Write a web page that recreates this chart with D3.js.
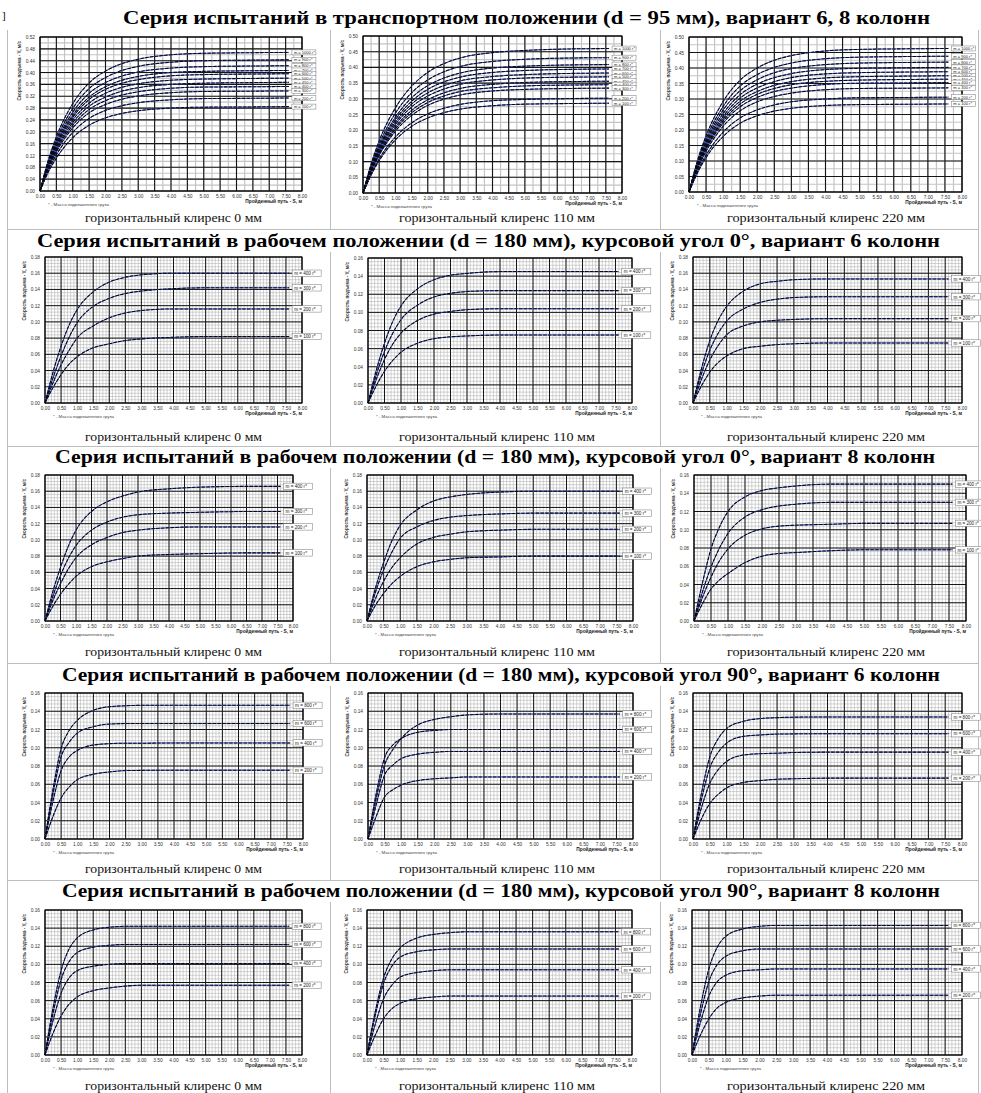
<!DOCTYPE html>
<html><head><meta charset="utf-8">
<script src="https://cdn.jsdelivr.net/npm/d3@7"></script>
<style>body{margin:0;background:#fff}svg{display:block}</style>
</head><body>
<svg id="chart" width="981" height="1093"></svg>
<script>
// ---------------- DATA ----------------
const X_TRANSPORT = [0, 0.25, 0.5, 1.0, 1.5, 2.0, 2.5, 3.0, 4.0, 5.0, 6.5, 7.6];
const X_WORK = [0, 0.25, 0.5, 0.75, 1.0, 1.5, 2.0, 2.5, 3.0, 4.0, 5.0, 6.5, 7.6];

const titles = [
  "Серия испытаний в транспортном положении (d = 95 мм), вариант 6, 8 колонн",
  "Серия испытаний в рабочем положении (d = 180 мм), курсовой угол 0°, вариант 6 колонн",
  "Серия испытаний в рабочем положении (d = 180 мм), курсовой угол 0°, вариант 8 колонн",
  "Серия испытаний в рабочем положении (d = 180 мм), курсовой угол 90°, вариант 6 колонн",
  "Серия испытаний в рабочем положении (d = 180 мм), курсовой угол 90°, вариант 8 колонн"
];
const captions = ["горизонтальный клиренс 0 мм", "горизонтальный клиренс 110 мм", "горизонтальный клиренс 220 мм"];
const xAxisTitle = "Пройденный путь - S, м";
const yAxisTitle = "Скорость подъема - V, м/с";
const noteText = "* - Масса подвешенного груза";

const massTransport = ["m = 1000 г*", "m = 900 г*", "m = 800 г*", "m = 700 г*", "m = 600 г*", "m = 500 г*",
                       "m = 450 г*", "m = 400 г*", "m = 300 г*", "m = 200 г*", "m = 100 г*"];
const mass0deg = ["m = 400 г*", "m = 300 г*", "m = 200 г*", "m = 100 г*"];
const mass90deg = ["m = 800 г*", "m = 600 г*", "m = 400 г*", "m = 200 г*"];

const yMaxByRow = [[0.52, 0.50, 0.50], [0.18, 0.16, 0.18], [0.18, 0.18, 0.16], [0.16, 0.16, 0.16], [0.16, 0.16, 0.16]];
const yStepByRow = [[0.04, 0.05, 0.05], [0.02, 0.02, 0.02], [0.02, 0.02, 0.02], [0.02, 0.02, 0.02], [0.02, 0.02, 0.02]];

// Row 1: transport position
const trans0 = [
  [0, 0.103, 0.183, 0.295, 0.365, 0.405, 0.430, 0.445, 0.460, 0.465, 0.467, 0.468],
  [0, 0.097, 0.173, 0.279, 0.346, 0.383, 0.407, 0.421, 0.435, 0.440, 0.442, 0.443],
  [0, 0.093, 0.165, 0.266, 0.330, 0.366, 0.388, 0.402, 0.415, 0.420, 0.422, 0.423],
  [0, 0.090, 0.159, 0.256, 0.317, 0.352, 0.374, 0.387, 0.400, 0.404, 0.406, 0.407],
  [0, 0.087, 0.154, 0.249, 0.309, 0.343, 0.364, 0.376, 0.389, 0.393, 0.395, 0.396],
  [0, 0.084, 0.149, 0.240, 0.297, 0.330, 0.350, 0.362, 0.374, 0.378, 0.380, 0.381],
  [0, 0.081, 0.143, 0.231, 0.286, 0.317, 0.337, 0.349, 0.360, 0.364, 0.366, 0.367],
  [0, 0.078, 0.138, 0.222, 0.275, 0.305, 0.324, 0.335, 0.347, 0.351, 0.352, 0.353],
  [0, 0.074, 0.132, 0.213, 0.264, 0.292, 0.310, 0.321, 0.332, 0.336, 0.337, 0.338],
  [0, 0.069, 0.122, 0.198, 0.245, 0.272, 0.288, 0.298, 0.308, 0.312, 0.313, 0.314],
  [0, 0.063, 0.111, 0.180, 0.222, 0.247, 0.262, 0.271, 0.280, 0.283, 0.284, 0.285]
];
const trans110 = [
  [0, 0.092, 0.166, 0.271, 0.340, 0.384, 0.412, 0.430, 0.447, 0.454, 0.459, 0.460],
  [0, 0.086, 0.155, 0.254, 0.319, 0.360, 0.386, 0.403, 0.419, 0.426, 0.430, 0.431],
  [0, 0.082, 0.147, 0.241, 0.303, 0.342, 0.366, 0.382, 0.398, 0.404, 0.408, 0.409],
  [0, 0.079, 0.142, 0.233, 0.292, 0.330, 0.354, 0.369, 0.384, 0.390, 0.394, 0.395],
  [0, 0.076, 0.138, 0.225, 0.283, 0.319, 0.342, 0.357, 0.371, 0.377, 0.381, 0.382],
  [0, 0.074, 0.133, 0.218, 0.274, 0.309, 0.331, 0.346, 0.360, 0.366, 0.369, 0.370],
  [0, 0.071, 0.128, 0.210, 0.263, 0.297, 0.319, 0.333, 0.346, 0.352, 0.355, 0.356],
  [0, 0.069, 0.124, 0.204, 0.255, 0.288, 0.309, 0.323, 0.335, 0.341, 0.344, 0.345],
  [0, 0.067, 0.120, 0.197, 0.247, 0.279, 0.299, 0.312, 0.325, 0.330, 0.333, 0.334],
  [0, 0.060, 0.109, 0.178, 0.223, 0.252, 0.270, 0.282, 0.294, 0.298, 0.301, 0.302],
  [0, 0.057, 0.103, 0.169, 0.212, 0.239, 0.256, 0.267, 0.278, 0.283, 0.285, 0.286]
];
const trans220 = [
  [0, 0.102, 0.181, 0.292, 0.361, 0.400, 0.425, 0.440, 0.455, 0.460, 0.462, 0.463],
  [0, 0.096, 0.171, 0.276, 0.342, 0.379, 0.402, 0.416, 0.430, 0.435, 0.437, 0.438],
  [0, 0.092, 0.163, 0.264, 0.327, 0.362, 0.385, 0.398, 0.411, 0.416, 0.418, 0.419],
  [0, 0.088, 0.157, 0.253, 0.314, 0.348, 0.369, 0.382, 0.395, 0.399, 0.401, 0.402],
  [0, 0.085, 0.151, 0.244, 0.303, 0.336, 0.356, 0.369, 0.381, 0.385, 0.387, 0.388],
  [0, 0.083, 0.146, 0.236, 0.293, 0.324, 0.344, 0.356, 0.368, 0.372, 0.374, 0.375],
  [0, 0.080, 0.142, 0.229, 0.284, 0.315, 0.334, 0.346, 0.357, 0.361, 0.363, 0.364],
  [0, 0.078, 0.138, 0.222, 0.275, 0.305, 0.324, 0.335, 0.347, 0.351, 0.352, 0.353],
  [0, 0.074, 0.131, 0.212, 0.262, 0.291, 0.308, 0.319, 0.330, 0.334, 0.335, 0.336],
  [0, 0.067, 0.119, 0.193, 0.239, 0.265, 0.281, 0.291, 0.300, 0.304, 0.305, 0.306],
  [0, 0.062, 0.111, 0.179, 0.222, 0.246, 0.261, 0.270, 0.279, 0.282, 0.283, 0.284]
];

// Row 2: working, 0°, 6 columns
const w0c6_0 = [
  [0, 0.038, 0.070, 0.096, 0.115, 0.137, 0.149, 0.155, 0.158, 0.160, 0.160, 0.160, 0.160],
  [0, 0.031, 0.058, 0.081, 0.099, 0.119, 0.129, 0.135, 0.138, 0.141, 0.142, 0.142, 0.142],
  [0, 0.025, 0.047, 0.065, 0.080, 0.095, 0.105, 0.111, 0.114, 0.116, 0.116, 0.116, 0.116],
  [0, 0.019, 0.035, 0.048, 0.057, 0.068, 0.073, 0.077, 0.079, 0.081, 0.082, 0.082, 0.082]
];
const w0c6_110 = [
  [0, 0.036, 0.066, 0.090, 0.107, 0.126, 0.136, 0.141, 0.143, 0.145, 0.145, 0.145, 0.145],
  [0, 0.031, 0.057, 0.077, 0.092, 0.108, 0.117, 0.121, 0.123, 0.124, 0.124, 0.124, 0.124],
  [0, 0.026, 0.048, 0.065, 0.077, 0.091, 0.098, 0.101, 0.103, 0.104, 0.104, 0.104, 0.104],
  [0, 0.019, 0.035, 0.047, 0.056, 0.066, 0.071, 0.073, 0.074, 0.075, 0.075, 0.075, 0.075]
];
const w0c6_220 = [
  [0, 0.042, 0.077, 0.102, 0.119, 0.138, 0.147, 0.150, 0.152, 0.153, 0.153, 0.153, 0.153],
  [0, 0.036, 0.065, 0.086, 0.101, 0.116, 0.124, 0.128, 0.130, 0.131, 0.131, 0.131, 0.131],
  [0, 0.029, 0.053, 0.071, 0.084, 0.095, 0.100, 0.102, 0.103, 0.104, 0.104, 0.104, 0.104],
  [0, 0.021, 0.038, 0.050, 0.058, 0.067, 0.070, 0.072, 0.073, 0.074, 0.074, 0.074, 0.074]
];
// Row 3: working, 0°, 8 columns
const w0c8_0 = [
  [0, 0.036, 0.066, 0.092, 0.112, 0.135, 0.147, 0.154, 0.159, 0.163, 0.165, 0.166, 0.166],
  [0, 0.030, 0.056, 0.077, 0.093, 0.112, 0.122, 0.128, 0.131, 0.133, 0.134, 0.135, 0.135],
  [0, 0.025, 0.046, 0.064, 0.078, 0.094, 0.103, 0.109, 0.112, 0.115, 0.116, 0.116, 0.116],
  [0, 0.018, 0.033, 0.045, 0.055, 0.067, 0.073, 0.077, 0.080, 0.082, 0.083, 0.084, 0.084]
];
const w0c8_110 = [
  [0, 0.040, 0.072, 0.099, 0.118, 0.137, 0.148, 0.153, 0.156, 0.159, 0.160, 0.160, 0.160],
  [0, 0.035, 0.063, 0.085, 0.102, 0.116, 0.124, 0.128, 0.130, 0.132, 0.133, 0.133, 0.133],
  [0, 0.027, 0.049, 0.066, 0.078, 0.095, 0.103, 0.107, 0.110, 0.112, 0.113, 0.113, 0.113],
  [0, 0.019, 0.034, 0.046, 0.055, 0.067, 0.073, 0.076, 0.078, 0.079, 0.080, 0.080, 0.080]
];
const w0c8_220 = [
  [0, 0.042, 0.079, 0.103, 0.120, 0.136, 0.143, 0.146, 0.148, 0.150, 0.150, 0.150, 0.150],
  [0, 0.032, 0.059, 0.080, 0.096, 0.114, 0.122, 0.126, 0.128, 0.130, 0.130, 0.130, 0.130],
  [0, 0.026, 0.048, 0.066, 0.079, 0.094, 0.101, 0.104, 0.105, 0.106, 0.107, 0.107, 0.107],
  [0, 0.019, 0.035, 0.045, 0.052, 0.064, 0.071, 0.074, 0.075, 0.077, 0.078, 0.078, 0.078]
];
// Row 4: working, 90°, 6 columns
const w90c6_0 = [
  [0, 0.055, 0.099, 0.119, 0.130, 0.141, 0.145, 0.146, 0.1465, 0.1465, 0.1465, 0.1465, 0.1465],
  [0, 0.050, 0.090, 0.106, 0.116, 0.123, 0.126, 0.1265, 0.1265, 0.1265, 0.1265, 0.1265, 0.1265],
  [0, 0.042, 0.075, 0.090, 0.097, 0.103, 0.1045, 0.105, 0.105, 0.1053, 0.1053, 0.1053, 0.1053],
  [0, 0.025, 0.045, 0.057, 0.065, 0.071, 0.0735, 0.075, 0.0752, 0.0754, 0.0754, 0.0754, 0.0754]
];
const w90c6_110 = [
  [0, 0.045, 0.081, 0.098, 0.110, 0.125, 0.131, 0.134, 0.136, 0.137, 0.137, 0.137, 0.137],
  [0, 0.050, 0.089, 0.103, 0.110, 0.117, 0.119, 0.120, 0.120, 0.120, 0.120, 0.120, 0.120],
  [0, 0.038, 0.070, 0.081, 0.088, 0.093, 0.095, 0.096, 0.096, 0.096, 0.096, 0.096, 0.096],
  [0, 0.025, 0.046, 0.054, 0.059, 0.064, 0.066, 0.067, 0.068, 0.068, 0.068, 0.068, 0.068]
];
const w90c6_220 = [
  [0, 0.050, 0.090, 0.110, 0.121, 0.129, 0.132, 0.133, 0.1335, 0.1337, 0.1337, 0.1337, 0.1337],
  [0, 0.043, 0.078, 0.095, 0.105, 0.1125, 0.114, 0.115, 0.1152, 0.1154, 0.1154, 0.1154, 0.1154],
  [0, 0.034, 0.061, 0.076, 0.085, 0.092, 0.0935, 0.094, 0.0948, 0.0952, 0.0952, 0.0952, 0.0952],
  [0, 0.022, 0.039, 0.049, 0.056, 0.062, 0.064, 0.0655, 0.066, 0.0667, 0.0667, 0.0667, 0.0667]
];
// Row 5: working, 90°, 8 columns
const w90c8_0 = [
  [0, 0.052, 0.093, 0.117, 0.129, 0.138, 0.141, 0.142, 0.142, 0.142, 0.142, 0.142, 0.142],
  [0, 0.046, 0.083, 0.103, 0.113, 0.119, 0.121, 0.122, 0.122, 0.122, 0.122, 0.122, 0.122],
  [0, 0.038, 0.068, 0.085, 0.093, 0.098, 0.100, 0.101, 0.101, 0.101, 0.101, 0.101, 0.101],
  [0, 0.024, 0.043, 0.056, 0.064, 0.071, 0.074, 0.076, 0.077, 0.077, 0.077, 0.077, 0.077]
];
const w90c8_110 = [
  [0, 0.048, 0.085, 0.106, 0.118, 0.129, 0.133, 0.135, 0.136, 0.136, 0.136, 0.136, 0.136],
  [0, 0.044, 0.079, 0.098, 0.108, 0.114, 0.116, 0.117, 0.117, 0.117, 0.117, 0.117, 0.117],
  [0, 0.034, 0.062, 0.077, 0.086, 0.091, 0.093, 0.094, 0.094, 0.094, 0.094, 0.094, 0.094],
  [0, 0.022, 0.040, 0.051, 0.057, 0.062, 0.064, 0.065, 0.065, 0.065, 0.065, 0.065, 0.065]
];
const w90c8_220 = [
  [0, 0.053, 0.095, 0.119, 0.131, 0.139, 0.142, 0.143, 0.143, 0.143, 0.143, 0.143, 0.143],
  [0, 0.045, 0.081, 0.100, 0.109, 0.115, 0.117, 0.117, 0.117, 0.117, 0.117, 0.117, 0.117],
  [0, 0.036, 0.065, 0.081, 0.088, 0.093, 0.094, 0.095, 0.095, 0.095, 0.095, 0.095, 0.095],
  [0, 0.022, 0.040, 0.052, 0.058, 0.063, 0.065, 0.066, 0.066, 0.066, 0.066, 0.066, 0.066]
];

const seriesGrid = [
  [trans0, trans110, trans220],
  [w0c6_0, w0c6_110, w0c6_220],
  [w0c8_0, w0c8_110, w0c8_220],
  [w90c6_0, w90c6_110, w90c6_220],
  [w90c8_0, w90c8_110, w90c8_220]
];
const labelGrid = [massTransport, mass0deg, mass0deg, mass90deg, mass90deg];
const xGrid = [X_TRANSPORT, X_WORK, X_WORK, X_WORK, X_WORK];

// ---------------- LAYOUT ----------------
const rowLayout = [
  {titleY: 24, titleX: [123, 930], capY: 222, plots: [[40, 302, 37, 191], [363, 622, 36, 193], [689, 962, 37, 192]]},
  {titleY: 247, titleX: [37, 940], capY: 441, plots: [[45, 302, 257, 403], [368, 632, 258, 403], [693, 962, 257, 403]]},
  {titleY: 463, titleX: [55, 935], capY: 656, plots: [[45, 293, 475, 621], [367, 633, 475, 621], [694, 966, 475, 621]]},
  {titleY: 681, titleX: [62, 940], capY: 873, plots: [[45, 303, 693, 839], [368, 633, 693, 839], [693, 962, 693, 839]]},
  {titleY: 897, titleX: [62, 940], capY: 1090, plots: [[45, 302, 910, 1055], [367, 632, 910, 1055], [692, 962, 910, 1055]]}
];
const captionSpans = [[85, 262], [399, 595], [727, 925]];

const SANS = "'Liberation Sans', Arial, sans-serif";
const SERIF = "'Liberation Serif', 'Times New Roman', serif";
const svg = d3.select("#chart");

// table borders
const borders = svg.append("g").attr("stroke", "#bdbdbd").attr("stroke-width", 1);
[229.5, 446.5, 663.5, 880.5].forEach(yv => borders.append("line").attr("x1", 7).attr("x2", 979).attr("y1", yv).attr("y2", yv));
[7.5, 978.5].forEach(xv => borders.append("line").attr("x1", xv).attr("x2", xv).attr("y1", 30).attr("y2", 1093));
[[30, 229], [252, 446], [468, 663], [686, 880], [902, 1093]].forEach(([a, b]) => {
  [330.5, 660.5].forEach(xv => borders.append("line").attr("x1", xv).attr("x2", xv).attr("y1", a).attr("y2", b));
});
svg.append("text").attr("x", 2).attr("y", 19).attr("font-family", SERIF).attr("font-size", 11).text("]");

function drawPanel(r, c) {
  const [L, R, T, B] = rowLayout[r].plots[c];
  const yMax = yMaxByRow[r][c], yStep = yStepByRow[r][c];
  const xs = xGrid[r];
  const series = seriesGrid[r][c];
  const labels = labelGrid[r];
  const isTop = r === 0;
  const g = svg.append("g");
  const x = d3.scaleLinear().domain([0, 8]).range([L, R]);
  const y = d3.scaleLinear().domain([0, yMax]).range([B, T]);
  const eps = 1e-9;
  const xMinorStep = isTop ? 0.25 : 0.1;
  const yMinorStep = isTop ? yStep / 2 : yStep / 5;
  const xMinor = d3.range(0, 8 + eps, xMinorStep);
  const yMinor = d3.range(0, Math.round(yMax / yMinorStep) + 1).map(i => i * yMinorStep);
  const xMajor = d3.range(0, 17).map(i => i * 0.5);
  const yMajor = d3.range(0, Math.round(yMax / yStep) + 1).map(i => i * yStep);

  g.append("rect").attr("x", L).attr("y", T).attr("width", R - L).attr("height", B - T).attr("fill", "#fff");
  const minor = g.append("g").attr("stroke", isTop ? "#c4c4c4" : "#a8a8a8").attr("stroke-width", isTop ? 1.2 : 0.5);
  minor.selectAll("line.v").data(xMinor).join("line").attr("class", "v")
    .attr("x1", d => x(d)).attr("x2", d => x(d)).attr("y1", T).attr("y2", B);
  minor.selectAll("line.h").data(yMinor).join("line").attr("class", "h")
    .attr("x1", L).attr("x2", R).attr("y1", d => y(d)).attr("y2", d => y(d));
  const major = g.append("g").attr("stroke", "#151515").attr("stroke-width", isTop ? 1.1 : 1);
  major.selectAll("line.v").data(xMajor).join("line").attr("class", "v")
    .attr("x1", d => x(d)).attr("x2", d => x(d)).attr("y1", T).attr("y2", B);
  major.selectAll("line.h").data(yMajor).join("line").attr("class", "h")
    .attr("x1", L).attr("x2", R).attr("y1", d => y(d)).attr("y2", d => y(d));
  g.append("rect").attr("x", L).attr("y", T).attr("width", R - L).attr("height", B - T)
    .attr("fill", "none").attr("stroke", "#000").attr("stroke-width", 1);

  const line = d3.line().x((d, i) => x(xs[i])).y(d => y(d)).curve(d3.curveMonotoneX);
  const curves = g.append("g");
  curves.selectAll("path.b").data(series).join("path").attr("class", "b")
    .attr("d", line).attr("fill", "none").attr("stroke", "#3a4fd0").attr("stroke-width", 1);
  curves.selectAll("path.k").data(series).join("path").attr("class", "k")
    .attr("d", line).attr("fill", "none").attr("stroke", "#0a0a0a").attr("stroke-width", 1.05)
    .attr("stroke-dasharray", "3.5,1.3");

  // labels
  const bw = isTop ? 24 : 29, bh = isTop ? 5 : 6.4;
  const lab = g.append("g");
  series.forEach((s, i) => {
    const lx = x(xs[xs.length - 1]) + 3, ly = y(s[s.length - 1]);
    lab.append("rect").attr("x", lx).attr("y", ly - bh / 2).attr("width", bw).attr("height", bh)
      .attr("fill", "#fff").attr("stroke", "#777").attr("stroke-width", 0.5);
    lab.append("text").attr("x", lx + 2).attr("y", ly + (isTop ? 1.5 : 1.8))
      .attr("font-family", SANS).attr("font-size", isTop ? 4 : 4.6).attr("fill", "#222").text(labels[i]);
  });

  // axes
  const fmt = d3.format(".2f");
  const ax = g.append("g").attr("transform", `translate(0,${B})`)
    .call(d3.axisBottom(x).tickValues(xMajor).tickFormat(fmt).tickSize(0).tickPadding(4));
  const ay = g.append("g").attr("transform", `translate(${L},0)`)
    .call(d3.axisLeft(y).tickValues(yMajor).tickFormat(fmt).tickSize(0).tickPadding(5));
  [ax, ay].forEach(a => {
    a.select(".domain").remove();
    a.selectAll("text").attr("font-family", SANS).attr("font-size", 4.8).attr("fill", "#333");
  });

  g.append("text").attr("transform", `translate(${L - 19},${T + 4}) rotate(-90)`)
    .attr("text-anchor", "end").attr("font-family", SANS).attr("font-size", 4.6)
    .attr("font-weight", "bold").attr("fill", "#333").text(yAxisTitle);
  g.append("text").attr("x", R).attr("y", B + 12).attr("text-anchor", "end")
    .attr("font-family", SANS).attr("font-size", 4.8).attr("font-weight", "bold").attr("fill", "#222").text(xAxisTitle);
  g.append("text").attr("x", L + 8).attr("y", B + 15).attr("font-family", SANS)
    .attr("font-size", 4.4).attr("fill", "#444").text(noteText);

  // caption
  const [cx0, cx1] = captionSpans[c];
  svg.append("text").attr("x", cx0).attr("y", rowLayout[r].capY)
    .attr("textLength", cx1 - cx0).attr("lengthAdjust", "spacingAndGlyphs")
    .attr("font-family", SERIF).attr("font-size", 13.5).attr("fill", "#111").text(captions[c]);
}

rowLayout.forEach((row, r) => {
  svg.append("text").attr("x", row.titleX[0]).attr("y", row.titleY)
    .attr("textLength", row.titleX[1] - row.titleX[0]).attr("lengthAdjust", "spacingAndGlyphs")
    .attr("font-family", SERIF).attr("font-weight", "bold").attr("font-size", 19).attr("fill", "#000")
    .text(titles[r]);
  for (let c = 0; c < 3; c++) drawPanel(r, c);
});
</script>
</body></html>
